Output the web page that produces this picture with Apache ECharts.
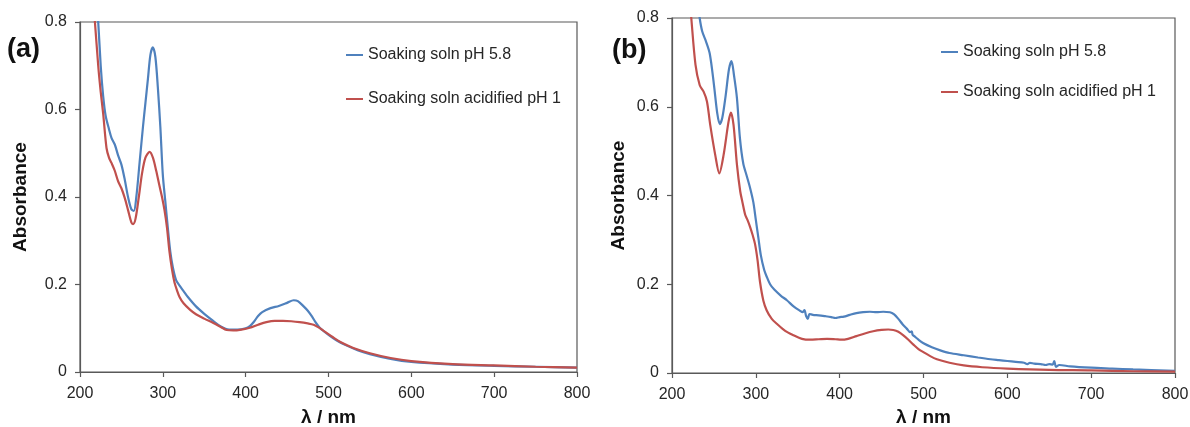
<!DOCTYPE html>
<html><head><meta charset="utf-8">
<script src="https://cdn.jsdelivr.net/npm/echarts@6/dist/echarts.min.js"></script>
<style>html,body{margin:0;padding:0;background:#fff}#c{width:1190px;height:427px}</style>
</head><body><div id="c"></div>
<script>
const seriesNames = ['Soaking soln pH 5.8', 'Soaking soln acidified pH 1'];
const panelLabels = ['(a)', '(b)'];
const yTitle = 'Absorbance';
const xTitle = 'λ / nm';

// Panel (a): pH 5.8
const wlA1 = [214,222,225,228,231,235,238,242,246,250,254,258,262,265,268,272,276,279,282,285,288,291,294,297,300,303,306,309,312,316,320,325,330,340,350,360,370,380,390,400,405,410,415,420,430,440,450,458,463,470,475,480,485,490,500,510,520,535,550,575,600,650,700,750,800];
const abA1 = [1.02,0.80,0.70,0.63,0.585,0.555,0.535,0.52,0.495,0.474,0.44,0.40,0.372,0.368,0.40,0.48,0.56,0.615,0.67,0.725,0.742,0.72,0.65,0.56,0.45,0.39,0.33,0.275,0.24,0.21,0.198,0.185,0.172,0.15,0.133,0.118,0.104,0.097,0.097,0.100,0.105,0.115,0.128,0.137,0.146,0.151,0.158,0.164,0.162,0.15,0.14,0.127,0.112,0.100,0.085,0.072,0.062,0.050,0.041,0.030,0.023,0.017,0.014,0.012,0.010];
// Panel (a): acidified pH 1
const wlA2 = [210,218,222,225,228,232,235,238,242,246,250,254,258,262,264,267,271,275,279,284,288,292,296,299,302,305,308,311,314,317,320,325,333,340,350,361,370,377,385,395,405,415,425,435,445,455,465,475,482,488,495,505,515,530,550,575,600,650,700,750,800];
const abA2 = [0.98,0.80,0.70,0.64,0.59,0.512,0.49,0.478,0.46,0.436,0.42,0.398,0.37,0.342,0.338,0.35,0.40,0.455,0.49,0.503,0.49,0.46,0.425,0.40,0.37,0.33,0.275,0.235,0.205,0.187,0.172,0.157,0.142,0.132,0.122,0.112,0.103,0.096,0.095,0.097,0.101,0.108,0.114,0.117,0.117,0.116,0.114,0.111,0.108,0.102,0.093,0.080,0.068,0.055,0.043,0.032,0.025,0.018,0.015,0.012,0.010];
// Panel (b): pH 5.8
const wlB1 = [228,233,236,240,245,250,254,257,260,264,268,271,274,277.5,281,285,289,293,297,300,303,306,310,313,317,322,330,337,345,352,356,358,360,362,364,368,375,383,390,395,400,405,412,420,428,436,444,452,460,465,470,475,480,484,486,487,489,494,500,510,520,531,548,565,580,590,600,610,620,624,627,632,640,646,650,654,656,658,662,675,700,725,750,800];
const abB1 = [0.87,0.80,0.77,0.75,0.72,0.65,0.585,0.561,0.575,0.625,0.685,0.703,0.67,0.619,0.53,0.472,0.445,0.418,0.385,0.345,0.305,0.265,0.232,0.217,0.2,0.188,0.174,0.164,0.15,0.141,0.137,0.142,0.128,0.122,0.133,0.131,0.130,0.128,0.126,0.124,0.126,0.127,0.131,0.135,0.137,0.138,0.137,0.138,0.137,0.132,0.122,0.11,0.1,0.092,0.094,0.086,0.083,0.075,0.067,0.058,0.051,0.045,0.04,0.035,0.031,0.029,0.027,0.025,0.023,0.02,0.023,0.021,0.02,0.018,0.02,0.019,0.027,0.014,0.018,0.015,0.012,0.010,0.008,0.005];
// Panel (b): acidified pH 1
const wlB2 = [218,223,228,233,237.7,241.7,245.6,251.6,256.4,261.5,267.5,270.3,273.4,277.5,281.4,284,287.4,290,293,296,299,302,305,309,313,319,325,335,345,355,365,375,385,395,402,410,420,430,440,450,458,464,470,476,482,488,494,500,508,516,531,548,570,600,650,700,750,800];
const abB2 = [0.91,0.80,0.695,0.649,0.634,0.612,0.559,0.491,0.45,0.491,0.567,0.587,0.559,0.469,0.409,0.385,0.356,0.345,0.33,0.312,0.291,0.255,0.205,0.163,0.141,0.122,0.111,0.095,0.085,0.077,0.075,0.076,0.077,0.076,0.075,0.077,0.083,0.089,0.094,0.097,0.098,0.097,0.093,0.085,0.075,0.064,0.054,0.047,0.038,0.031,0.023,0.017,0.013,0.010,0.007,0.006,0.004,0.003];

const FONT = '"Liberation Sans", Arial, sans-serif';
const AX = '#595959';
const TXT = '#262626';
const BLUE = '#4F81BD', RED = '#C0504D';

const zip = (a, b) => a.map((v, i) => [v, b[i]]);

function xAxis(gi, gap) {
  return {
    type: 'value', gridIndex: gi, min: 200, max: 800, interval: 100,
    axisLine: { show: true, onZero: false, lineStyle: { color: AX, width: 1.2 } },
    axisTick: { show: true, length: 5, lineStyle: { color: AX, width: 1.2 } },
    axisLabel: { color: TXT, fontSize: 16, fontFamily: FONT, margin: 14 },
    splitLine: { show: false },
    name: xTitle, nameLocation: 'middle', nameGap: gap,
    nameTextStyle: { color: '#111', fontSize: 19, fontWeight: 'bold', fontFamily: FONT }
  };
}
function yAxis(gi, gap) {
  return {
    type: 'value', gridIndex: gi, min: 0, max: 0.8, interval: 0.2,
    axisLine: { show: true, lineStyle: { color: AX, width: 1.2 } },
    axisTick: { show: true, length: 5, lineStyle: { color: AX, width: 1.2 } },
    axisLabel: { color: TXT, fontSize: 16, fontFamily: FONT, margin: 13 },
    splitLine: { show: false },
    name: yTitle, nameLocation: 'middle', nameGap: gap,
    nameTextStyle: { color: '#111', fontSize: 19, fontWeight: 'bold', fontFamily: FONT }
  };
}
function line(name, gi, data, color) {
  return {
    type: 'line', name, xAxisIndex: gi, yAxisIndex: gi, data,
    showSymbol: false, symbol: 'none', smooth: 0.3, clip: true,
    lineStyle: { color, width: 2.2 }, itemStyle: { color },
    emphasis: { disabled: true }, animation: false
  };
}
function legend(left, top, gap) {
  return {
    orient: 'vertical', left, top, padding: 0, itemGap: gap,
    icon: 'rect', itemWidth: 17, itemHeight: 2,
    data: seriesNames, selectedMode: false,
    textStyle: { color: TXT, fontSize: 16, fontFamily: FONT }
  };
}

const chart = echarts.init(document.getElementById('c'), null, { renderer: 'canvas' });
chart.setOption({
  animation: false,
  backgroundColor: '#fff',
  grid: [
    { left: 80, top: 22, width: 497, height: 350, show: true, borderColor: AX, borderWidth: 1.2, backgroundColor: 'transparent', containLabel: false, outerBoundsMode: 'none' },
    { left: 672, top: 18, width: 503, height: 355, show: true, borderColor: AX, borderWidth: 1.2, backgroundColor: 'transparent', containLabel: false, outerBoundsMode: 'none' }
  ],
  xAxis: [xAxis(0, 36), xAxis(1, 35)],
  yAxis: [yAxis(0, 50), yAxis(1, 44)],
  legend: [legend(346, 47, 28), legend(941, 44, 24)],
  graphic: [
    { type: 'text', left: 7, top: 36, style: { text: panelLabels[0], font: 'bold 27px ' + FONT, fill: '#111' } },
    { type: 'text', left: 612, top: 37, style: { text: panelLabels[1], font: 'bold 27px ' + FONT, fill: '#111' } }
  ],
  series: [
    line(seriesNames[0], 0, zip(wlA1, abA1), BLUE),
    line(seriesNames[1], 0, zip(wlA2, abA2), RED),
    line(seriesNames[0], 1, zip(wlB1, abB1), BLUE),
    line(seriesNames[1], 1, zip(wlB2, abB2), RED)
  ]
});
</script></body></html>
